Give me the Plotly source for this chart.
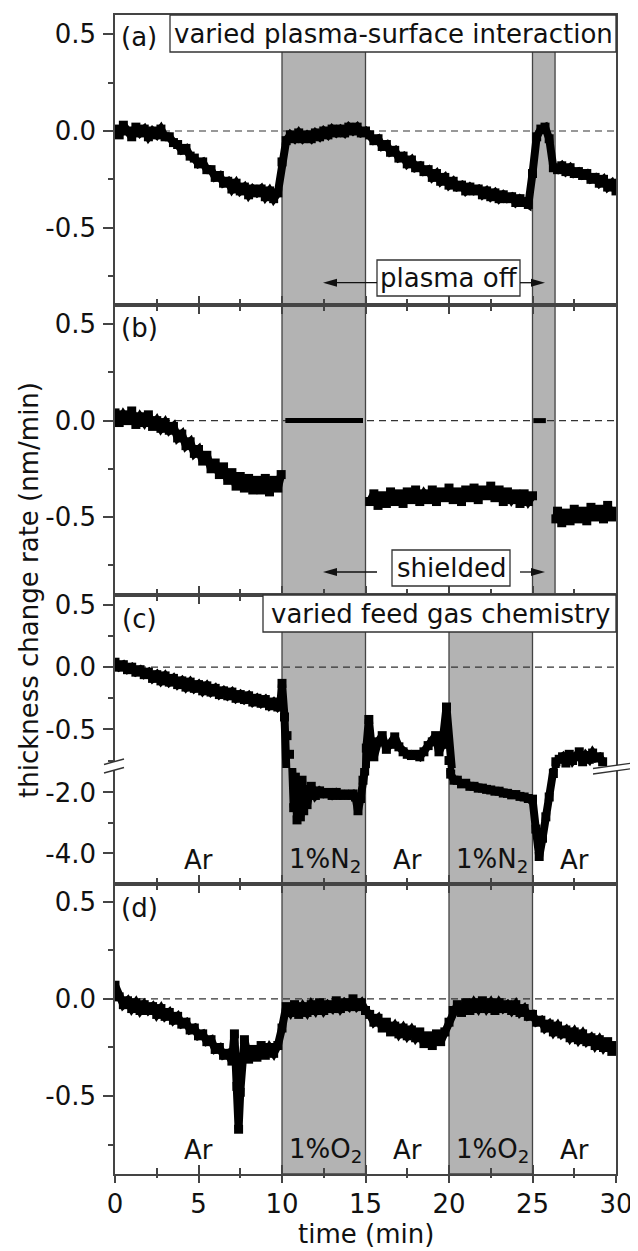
import plotly.graph_objects as go

# ---------------- data ----------------
# panel (a): varied plasma-surface interaction, t = 0 ... 30 min every 0.25 min
time_a = [0.25 * i for i in range(121)]
rate_a = [
    0.01, -0.02, 0.03, 0.00,
    -0.03, 0.02, -0.01, 0.01,
    -0.03, 0.00, -0.02, 0.01,
    -0.03, -0.03, -0.06, -0.07,
    -0.10, -0.09, -0.13, -0.14,
    -0.17, -0.16, -0.20, -0.20,
    -0.24, -0.23, -0.27, -0.26,
    -0.30, -0.27, -0.31, -0.29,
    -0.33, -0.30, -0.32, -0.30,
    -0.34, -0.31, -0.35, -0.32,
    -0.16, -0.05, -0.02, -0.04,
    -0.01, -0.04, -0.02, -0.04,
    -0.01, -0.03, 0.00, -0.02,
    0.01, -0.01, 0.01, -0.01,
    0.02, 0.00, 0.02, -0.01,
    0.00, -0.02, -0.05, -0.04,
    -0.08, -0.07, -0.11, -0.10,
    -0.14, -0.13, -0.17, -0.15,
    -0.19, -0.18, -0.21, -0.20,
    -0.24, -0.22, -0.26, -0.24,
    -0.28, -0.26, -0.29, -0.28,
    -0.31, -0.29, -0.31, -0.30,
    -0.33, -0.31, -0.34, -0.32,
    -0.35, -0.33, -0.35, -0.34,
    -0.37, -0.35, -0.37, -0.38,
    -0.22, -0.03, 0.01, 0.02,
    -0.04, -0.19, -0.20, -0.18,
    -0.21, -0.19, -0.22, -0.21,
    -0.23, -0.22, -0.25, -0.24,
    -0.27, -0.25, -0.29, -0.27,
    -0.31,
]

# panel (b): shielded, five separate segments
time_b1 = [0.25 * i for i in range(40)] + [9.95]
rate_b1 = [
    0.04, -0.01, 0.03, 0.00,
    0.05, -0.02, 0.02, -0.01,
    0.03, -0.03, 0.00, -0.04,
    -0.01, -0.05, -0.03, -0.09,
    -0.07, -0.13, -0.11, -0.17,
    -0.15, -0.21, -0.18, -0.25,
    -0.22, -0.28, -0.24, -0.31,
    -0.27, -0.34, -0.29, -0.35,
    -0.30, -0.36, -0.31, -0.36,
    -0.30, -0.37, -0.31, -0.35,
    -0.28,
]
time_b2 = [10.2, 14.85]
rate_b2 = [0.0, 0.0]
time_b3 = [15.25 + 0.25 * i for i in range(40)]
rate_b3 = [
    -0.42, -0.38, -0.44,
    -0.39, -0.43, -0.37, -0.42,
    -0.38, -0.43, -0.37, -0.41,
    -0.36, -0.42, -0.38, -0.41,
    -0.36, -0.42, -0.37, -0.40,
    -0.35, -0.41, -0.37, -0.42,
    -0.36, -0.40, -0.35, -0.41,
    -0.36, -0.39, -0.34, -0.40,
    -0.36, -0.42, -0.37, -0.41,
    -0.38, -0.43, -0.38, -0.42,
    -0.39,
]
time_b4 = [25.05, 25.8]
rate_b4 = [0.0, 0.0]
time_b5 = [26.4] + [26.5 + 0.25 * i for i in range(15)]
rate_b5 = [
    -0.51, -0.47, -0.53, -0.48, -0.52, -0.46, -0.51, -0.47,
    -0.52, -0.45, -0.50, -0.46, -0.51, -0.44, -0.50, -0.47,
]

# panel (c): varied feed gas chemistry (broken axis)
time_c = ([0.25 * i for i in range(40)] +
          [9.9, 10.0, 10.15, 10.3, 10.45, 10.6, 10.7, 10.8, 10.9, 11.0,
           11.1, 11.2, 11.3, 11.4, 11.5, 11.75, 12.0, 12.25, 12.5, 12.75,
           13.0, 13.25, 13.5, 13.75, 14.0, 14.25, 14.4, 14.55, 14.7, 14.85,
           14.95] +
          [15.05, 15.2, 15.35, 15.5, 15.75, 16.0, 16.25, 16.5, 16.75, 17.0,
           17.25, 17.5, 17.75, 18.0, 18.25, 18.5, 18.75, 19.0, 19.2, 19.4,
           19.6, 19.85, 20.0] +
          [20.1, 20.3, 20.5, 20.75, 21.0, 21.25, 21.5, 21.75, 22.0, 22.25,
           22.5, 22.75, 23.0, 23.25, 23.5, 23.75, 24.0, 24.25, 24.5, 24.75,
           25.0, 25.2, 25.4, 25.6, 25.8, 26.0, 26.25] +
          [26.4, 26.6, 26.8, 27.0, 27.2, 27.4, 27.6, 27.8, 28.0, 28.2,
           28.4, 28.6, 28.8, 29.0, 29.2])
rate_c = ([0.04, 0.00, 0.02, -0.02,
           0.00, -0.04, -0.02, -0.06,
           -0.04, -0.09, -0.06, -0.11,
           -0.07, -0.12, -0.09, -0.14,
           -0.11, -0.16, -0.12, -0.17,
           -0.14, -0.19, -0.15, -0.20,
           -0.17, -0.22, -0.19, -0.23,
           -0.20, -0.25, -0.22, -0.26,
           -0.23, -0.28, -0.25, -0.29,
           -0.26, -0.31, -0.28, -0.32] +
          [-0.30, -0.13, -0.40, -0.55, -0.70, -0.95, -2.5, -1.5, -2.9, -2.0,
           -2.8, -1.6, -2.6, -1.9, -2.4, -1.8, -2.1, -1.95, -2.05, -2.0,
           -2.1, -2.0, -2.1, -2.05, -2.1, -2.05, -2.15, -2.6, -2.2, -1.6,
           -1.3] +
          [-0.65, -0.42, -0.62, -0.72, -0.60, -0.55, -0.66, -0.62, -0.56, -0.64,
           -0.68, -0.70, -0.71, -0.70, -0.72, -0.68, -0.63, -0.60, -0.55, -0.68,
           -0.62, -0.32, -0.75] +
          [-1.40, -1.60, -1.60, -1.72, -1.70, -1.80, -1.80, -1.86, -1.86, -1.90,
           -1.92, -1.96, -1.96, -2.02, -2.03, -2.08, -2.07, -2.13, -2.15, -2.20,
           -2.22, -3.2, -4.1, -3.5, -2.8, -2.15, -1.38] +
          [-0.76, -0.74, -0.72, -0.77, -0.70, -0.75, -0.72, -0.68, -0.76, -0.71,
           -0.74, -0.69, -0.73, -0.72, -0.76])

# panel (d): O2 admixture
time_d = [0.25 * i for i in range(29)] + [7.15, 7.3, 7.4, 7.5, 7.6] + \
         [7.75 + 0.25 * i for i in range(90)]
rate_d = [
    0.07, 0.01, -0.03, -0.01,
    -0.05, -0.02, -0.06, -0.03,
    -0.06, -0.04, -0.08, -0.05,
    -0.09, -0.07, -0.11, -0.09,
    -0.13, -0.12, -0.16, -0.15,
    -0.19, -0.18, -0.22, -0.21,
    -0.26, -0.25, -0.29, -0.28,
    -0.32,
    -0.18, -0.45, -0.67, -0.48, -0.30,
    -0.21,
    -0.31, -0.26, -0.30, -0.24,
    -0.29, -0.25, -0.28, -0.24,
    -0.15, -0.04, -0.07, -0.03,
    -0.08, -0.04, -0.07, -0.03,
    -0.06, -0.02, -0.06, -0.03,
    -0.05, -0.01, -0.05, -0.02,
    -0.04, 0.00, -0.04, -0.02,
    -0.06, -0.08, -0.12, -0.10,
    -0.15, -0.12, -0.17, -0.14,
    -0.18, -0.15, -0.19, -0.16,
    -0.20, -0.17, -0.23, -0.19,
    -0.24, -0.18, -0.22, -0.17,
    -0.12, -0.06, -0.03, -0.07,
    -0.02, -0.06, -0.02, -0.05,
    -0.01, -0.05, -0.02, -0.06,
    -0.02, -0.05, -0.03, -0.06,
    -0.03, -0.07, -0.05, -0.09,
    -0.08, -0.12, -0.11, -0.15,
    -0.13, -0.17, -0.14, -0.18,
    -0.16, -0.20, -0.17, -0.21,
    -0.18, -0.22, -0.20, -0.24,
    -0.21, -0.25, -0.22, -0.27,
    -0.24,
]

# shaded intervals (min)
shade_ab = [(10, 15), (25, 26.35)]
shade_cd = [(10, 15), (20, 25)]
gas_c = ["Ar", "1%N<sub>2</sub>", "Ar", "1%N<sub>2</sub>", "Ar"]
gas_d = ["Ar", "1%O<sub>2</sub>", "Ar", "1%O<sub>2</sub>", "Ar"]
gas_t = [5, 12.6, 17.5, 22.6, 27.5]

x_ticks = [0, 5, 10, 15, 20, 25, 30]
x_ticktext = ["0", "5", "10", "15", "20", "25", "30"]
x_minor = [2.5, 7.5, 12.5, 17.5, 22.5, 27.5]
y_ticks = [0.5, 0.0, -0.5]
y_ticktext = ["0.5", "0.0", "-0.5"]
y_minor = [0.25, -0.25, -0.75]
yc_ticks = [-2.0, -4.0]
yc_ticktext = ["-2.0", "-4.0"]
yc_minor = [-3.0]

for a, b in [(time_a, rate_a), (time_b1, rate_b1), (time_b3, rate_b3),
             (time_b5, rate_b5), (time_c, rate_c), (time_d, rate_d)]:
    assert len(a) == len(b), (len(a), len(b))

# ---------------- layout helpers ----------------
# the page body adds an 8 px margin at the top-left
OFF = 8
W, H = 638 - OFF, 1251 - OFF
L, R, T, B = 115, 616, 15, 1174          # plot area in screenshot pixels
PW, PH = R - L, B - T


def X(px):
    return (px - L) / PW


def Y(py):
    return (B - py) / PH


FONT = "DejaVu Sans"
FS = 26
AX = "#444444"
INK = "#111111"

fig = go.Figure()

mk = dict(symbol="square", size=9, color="black", line=dict(width=0))


def add(x, y, xa, ya, mode="lines+markers", width=8):
    fig.add_trace(go.Scatter(x=x, y=y, xaxis=xa, yaxis=ya, mode=mode,
                             marker=mk, line=dict(color="black", width=width),
                             hoverinfo="skip", showlegend=False))


add(time_a, rate_a, "x", "y")
add(time_b1, rate_b1, "x2", "y2")
add(time_b2, rate_b2, "x2", "y2", mode="lines", width=5)
add(time_b3, rate_b3, "x2", "y2")
add(time_b4, rate_b4, "x2", "y2", mode="lines", width=5)
add(time_b5, rate_b5, "x2", "y2")
add(time_c, rate_c, "x3", "y3")
add(time_c, rate_c, "x4", "y4")
add(time_d, rate_d, "x5", "y5")
fig.add_trace(go.Scatter(x=[None], y=[None], xaxis="x6", yaxis="y5",
                         showlegend=False, hoverinfo="skip"))


def xax(anchor, **kw):
    d = dict(range=[0, 30], anchor=anchor, tickmode="array", tickvals=x_ticks,
             ticktext=x_ticktext, ticks="inside", ticklen=9, tickwidth=1.5,
             tickcolor=AX, showline=True, linecolor=AX, linewidth=1.5,
             showgrid=False, zeroline=False, showticklabels=False,
             minor=dict(tickmode="array", tickvals=x_minor, ticks="inside",
                        ticklen=6, tickwidth=1.5, tickcolor=AX, showgrid=False),
             tickfont=dict(family=FONT, size=FS, color=INK), fixedrange=True)
    d.update(kw)
    return d


def yax(anchor, dom, rng, tv, tt, mv):
    return dict(domain=dom, range=rng, anchor=anchor, tickmode="array",
                tickvals=tv, ticktext=tt, ticks="outside", ticklen=10,
                tickwidth=1.5, tickcolor=AX, showline=True, linecolor=AX,
                linewidth=1.5, mirror=True, showgrid=False, zeroline=False,
                minor=dict(tickmode="array", tickvals=mv, ticks="outside",
                           ticklen=5, tickwidth=1.5, tickcolor=AX,
                           showgrid=False),
                tickfont=dict(family=FONT, size=FS, color=INK),
                ticklabelstandoff=2, fixedrange=True)


fig.update_layout(
    width=W, height=H,
    margin=dict(l=L - OFF, r=(W + OFF) - R, t=T - OFF, b=(H + OFF) - B, pad=0,
                autoexpand=False),
    paper_bgcolor="white", plot_bgcolor="white",
    font=dict(family=FONT, size=FS, color=INK),
    showlegend=False,
    xaxis=xax("y", mirror=True),
    xaxis2=xax("y2", mirror="ticks"),
    xaxis3=xax("y3", side="top"),
    xaxis4=xax("y4", side="bottom"),
    xaxis5=xax("y5", mirror="ticks", showticklabels=True, ticklabelstandoff=6),
    xaxis6=xax("y5", overlaying="x5", side="bottom", ticks="outside", ticklen=8,
               showline=False,
               minor=dict(tickmode="array", tickvals=x_minor, ticks="outside",
                          ticklen=3, tickwidth=1.5, tickcolor=AX)),
    yaxis=yax("x", [Y(305), Y(15)], [-0.9, 0.6], y_ticks, y_ticktext, y_minor),
    yaxis2=yax("x2", [Y(595), Y(305)], [-0.905, 0.6], y_ticks, y_ticktext, y_minor),
    yaxis3=yax("x3", [Y(768), Y(595)], [-0.81, 0.58], y_ticks, y_ticktext, y_minor),
    yaxis4=yax("x4", [Y(884), Y(768)], [-5.0, -1.2], yc_ticks, yc_ticktext, yc_minor),
    yaxis5=yax("x5", [0, Y(884)], [-0.9, 0.59], y_ticks, y_ticktext, y_minor),
)

shapes = []
panel_px = {"a": (15, 305), "b": (305, 595), "c": (595, 884), "d": (884, 1174)}
for key, ivals in [("a", shade_ab), ("b", shade_ab), ("c", shade_cd), ("d", shade_cd)]:
    top, bot = panel_px[key]
    for x0, x1 in ivals:
        shapes.append(dict(type="rect", xref="x", yref="paper", x0=x0, x1=x1,
                           y0=Y(bot), y1=Y(top), fillcolor="#b3b3b3",
                           line=dict(color=AX, width=1.3), layer="below"))
for xr, yr in [("x", "y"), ("x2", "y2"), ("x3", "y3"), ("x5", "y5")]:
    shapes.append(dict(type="line", xref=xr, yref=yr, x0=0, x1=30, y0=0, y1=0,
                       line=dict(color="#333333", width=1.2, dash="7px,5px"),
                       layer="below"))

# text boxes
for x0, x1, y0, y1 in [(170, 616, 15, 52), (377, 520, 260, 296),
                       (392, 510, 550, 586), (263, 616, 595, 632)]:
    shapes.append(dict(type="rect", xref="paper", yref="paper",
                       x0=X(x0), x1=X(x1), y0=Y(y1), y1=Y(y0),
                       fillcolor="white", line=dict(color="#333333", width=1.3),
                       layer="above"))

# double-headed arrows (two halves, the box covers the middle)
for ypx in [282.7, 572]:
    for head, tail in [(323, 377), (545, 520)]:
        sgn = 1 if tail > head else -1
        base = head + sgn * 14
        shapes.append(dict(type="line", xref="paper", yref="paper",
                           x0=X(base), x1=X(tail), y0=Y(ypx), y1=Y(ypx),
                           line=dict(color="#111111", width=1.3), layer="above"))
        tri = (f"M{X(head)},{Y(ypx)} L{X(base)},{Y(ypx - 4)} "
               f"L{X(base)},{Y(ypx + 4)} Z")
        shapes.append(dict(type="path", xref="paper", yref="paper", path=tri,
                           fillcolor="#111111", line=dict(width=0), layer="above"))

# axis-break marks
for pts in [[(104, 764.5), (124, 759), (124, 767.5), (104, 773)],
            [(593, 768.5), (638, 762.3), (638, 767.7), (593, 774)]]:
    path = "M" + " L".join(f"{X(a)},{Y(b)}" for a, b in pts) + " Z"
    shapes.append(dict(type="path", xref="paper", yref="paper", path=path,
                       fillcolor="white", line=dict(width=0), layer="above"))
    for (a0, b0), (a1, b1) in [(pts[0], pts[1]), (pts[3], pts[2])]:
        shapes.append(dict(type="line", xref="paper", yref="paper",
                           x0=X(a0), y0=Y(b0), x1=X(a1), y1=Y(b1),
                           line=dict(color="#333333", width=1.3), layer="above"))

fig.update_layout(shapes=shapes)

ann = []


def txt(s, px, py, **kw):
    d = dict(text=s, xref="paper", yref="paper", x=X(px), y=Y(py),
             xanchor="center", yanchor="middle", showarrow=False,
             font=dict(family=FONT, size=FS, color=INK))
    d.update(kw)
    ann.append(d)


txt("(a)", 139, 37)
txt("(b)", 139, 328)
txt("(c)", 139, 619)
txt("(d)", 139, 908)
txt("varied plasma-surface interaction", 393, 34)
txt("varied feed gas chemistry", 440, 614)
txt("plasma off", 448.5, 278)
txt("shielded", 451, 568)
for s, t in zip(gas_c, gas_t):
    txt(s, L + t * PW / 30, 860)
for s, t in zip(gas_d, gas_t):
    txt(s, L + t * PW / 30, 1150)
txt("time (min)", 365.5, 1234)
txt("thickness change rate (nm/min)", 29, 590, textangle=-90)

fig.update_layout(annotations=ann)

fig.write_html("out.html")
